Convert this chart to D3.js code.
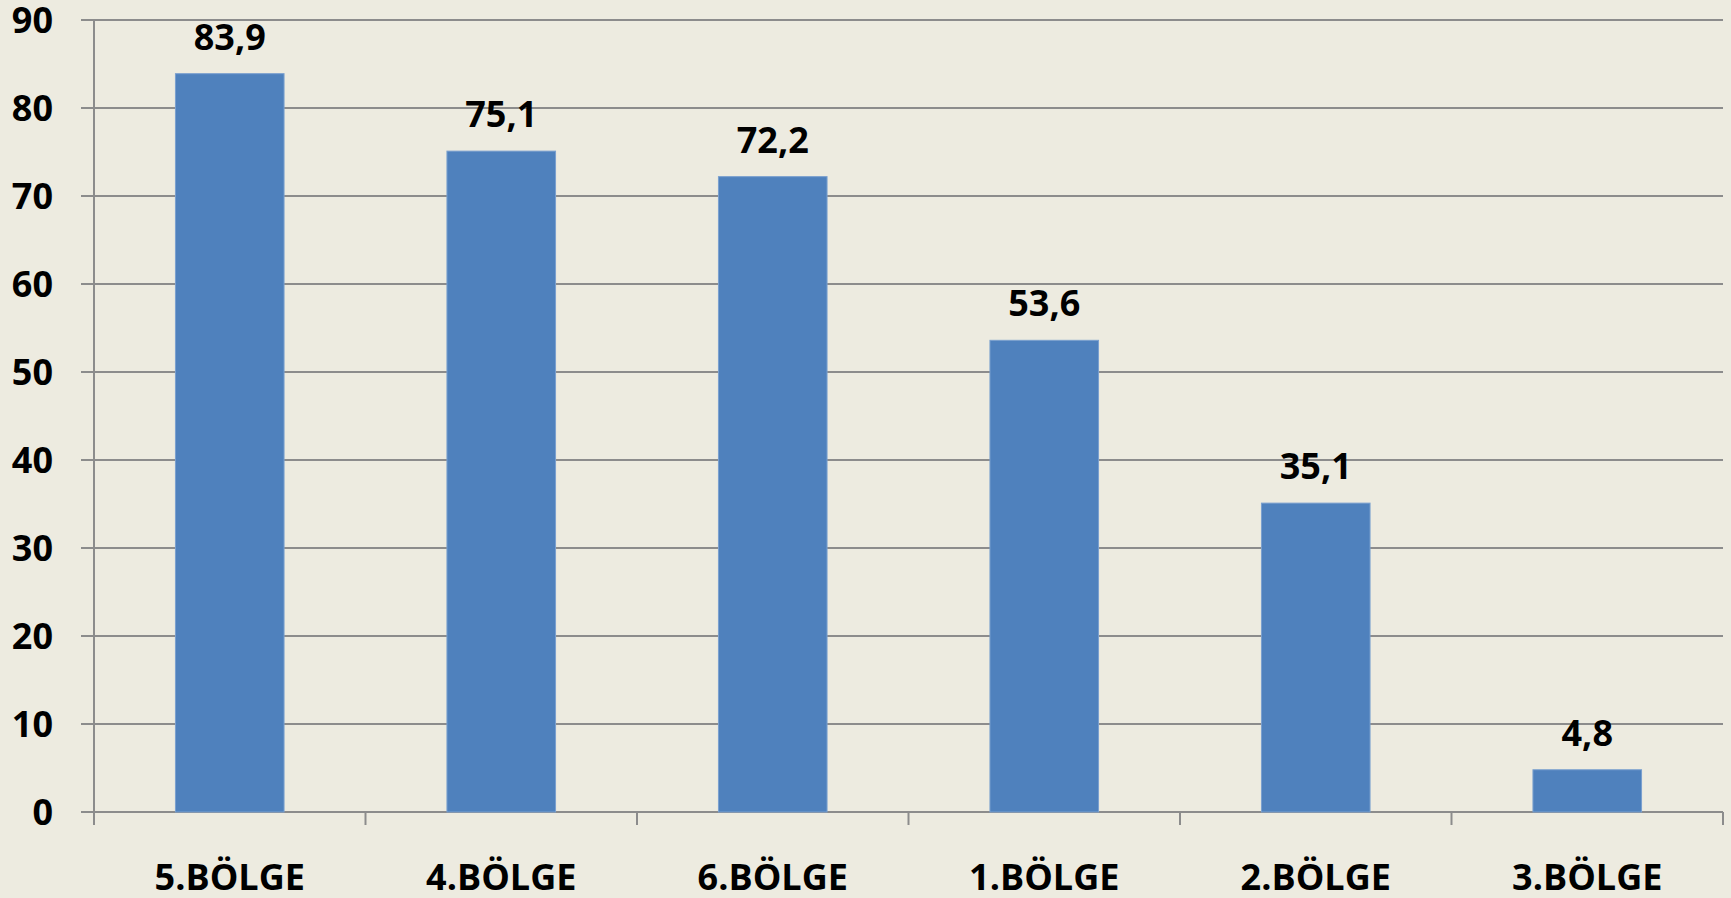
<!DOCTYPE html>
<html>
<head>
<meta charset="utf-8">
<script src="https://cdn.jsdelivr.net/npm/d3@7"></script>
<style>
  html, body { margin: 0; padding: 0; background: #edebe0; }
  svg { display: block; }
  text { font-family: "Open Sans", sans-serif; font-weight: bold; fill: #000; }
</style>
</head>
<body>
<div id="chart"></div>
<script>
const categories = ["5.BÖLGE", "4.BÖLGE", "6.BÖLGE", "1.BÖLGE", "2.BÖLGE", "3.BÖLGE"];
const values = [83.9, 75.1, 72.2, 53.6, 35.1, 4.8];
const yTicks = [0, 10, 20, 30, 40, 50, 60, 70, 80, 90];

const width = 1731, height = 898;
const margin = {top: 20, right: 8, bottom: 86, left: 94};

const svg = d3.select("#chart")
  .append("svg")
  .attr("width", width)
  .attr("height", height);

const x = d3.scaleBand()
  .domain(categories)
  .range([margin.left, width - margin.right])
  .paddingInner(0.6)
  .paddingOuter(0.3);

const y = d3.scaleLinear()
  .domain([0, 90])
  .range([height - margin.bottom, margin.top]);

// gridlines + left ticks
svg.append("g")
  .selectAll("line")
  .data(yTicks)
  .join("line")
  .attr("x1", margin.left - 13)
  .attr("x2", width - margin.right)
  .attr("y1", d => y(d))
  .attr("y2", d => y(d))
  .attr("stroke", "#8c8c8c")
  .attr("stroke-width", 2);

// y axis line
svg.append("line")
  .attr("x1", margin.left).attr("x2", margin.left)
  .attr("y1", y(90)).attr("y2", y(0) + 13)
  .attr("stroke", "#8c8c8c")
  .attr("stroke-width", 2);

// y labels
svg.append("g")
  .selectAll("text")
  .data(yTicks)
  .join("text")
  .attr("x", margin.left - 41)
  .attr("y", d => y(d))
  .attr("dy", "0.36em")
  .attr("text-anchor", "end")
  .style("font-size", "36px")
  .text(d => d);

// bars
svg.append("g")
  .selectAll("rect")
  .data(values)
  .join("rect")
  .attr("x", (d, i) => x(categories[i]))
  .attr("width", x.bandwidth())
  .attr("y", d => y(d))
  .attr("height", d => y(0) - y(d))
  .attr("fill", "#4f81bd")
  .attr("stroke", "#7aa0cf")
  .attr("stroke-width", 1);

// x axis ticks at band boundaries
const step = x.step();
const bounds = d3.range(categories.length + 1).map(i => margin.left + i * step);
svg.append("g")
  .selectAll("line")
  .data(bounds)
  .join("line")
  .attr("x1", d => d).attr("x2", d => d)
  .attr("y1", y(0)).attr("y2", y(0) + 13)
  .attr("stroke", "#8c8c8c")
  .attr("stroke-width", 2);

// value labels
svg.append("g")
  .selectAll("text")
  .data(values)
  .join("text")
  .attr("x", (d, i) => x(categories[i]) + x.bandwidth() / 2)
  .attr("y", d => y(d) - 24)
  .attr("text-anchor", "middle")
  .style("font-size", "36px")
  .text(d => d.toFixed(1).replace(".", ","));

// category labels
svg.append("g")
  .selectAll("text")
  .data(categories)
  .join("text")
  .attr("x", d => x(d) + x.bandwidth() / 2)
  .attr("y", y(0) + 78)
  .attr("text-anchor", "middle")
  .style("font-size", "36px")
  .text(d => d);
</script>
</body>
</html>
